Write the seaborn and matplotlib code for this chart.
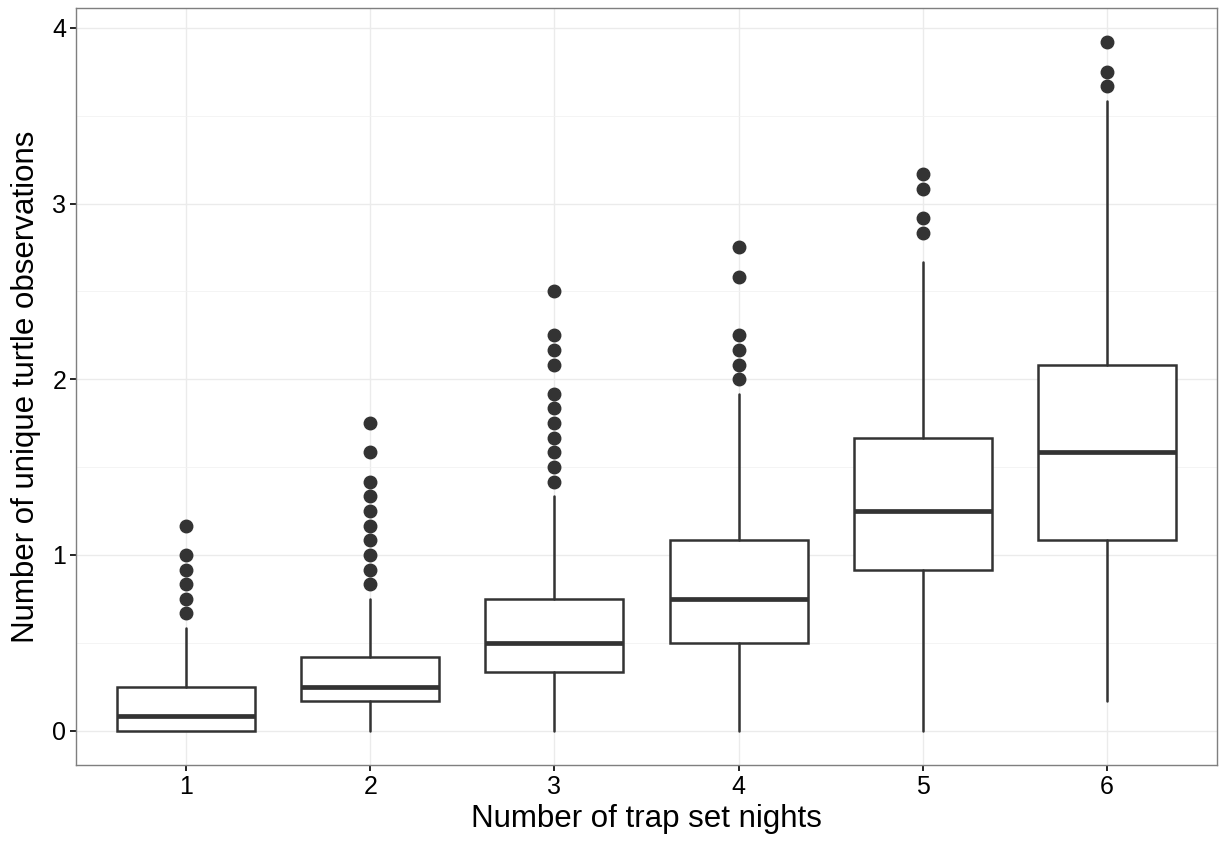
import matplotlib
matplotlib.use('Agg')
import matplotlib.pyplot as plt
import seaborn as sns
from matplotlib.ticker import MultipleLocator

# Box statistics (values are in twelfths)
nights = ['1', '2', '3', '4', '5', '6']
q1 = [0.0, 1/6, 1/3, 0.5, 11/12, 13/12]
median = [1/12, 0.25, 0.5, 0.75, 1.25, 19/12]
q3 = [0.25, 5/12, 0.75, 13/12, 5/3, 25/12]
whis_lo = [0.0, 0.0, 0.0, 0.0, 0.0, 1/6]
whis_hi = [7/12, 0.75, 4/3, 23/12, 8/3, 43/12]
outliers = [
    [8/12, 9/12, 10/12, 11/12, 1.0, 14/12],
    [10/12, 11/12, 1.0, 13/12, 14/12, 15/12, 16/12, 17/12, 19/12, 21/12],
    [17/12, 18/12, 19/12, 20/12, 21/12, 22/12, 23/12, 25/12, 26/12, 27/12, 30/12],
    [24/12, 25/12, 26/12, 27/12, 31/12, 33/12],
    [34/12, 35/12, 37/12, 38/12],
    [44/12, 45/12, 47/12],
]

sns.set_theme(style='whitegrid')
plt.rcParams['font.family'] = ['Liberation Sans', 'DejaVu Sans']

fig = plt.figure(figsize=(12.25, 8.44), dpi=100)
ax = fig.add_axes([76/1225, 1 - 765/844, (1217-76)/1225, (765-8)/844])

stats = []
for i in range(len(nights)):
    stats.append({'label': nights[i], 'q1': q1[i], 'med': median[i], 'q3': q3[i],
                  'whislo': whis_lo[i], 'whishi': whis_hi[i], 'fliers': outliers[i]})

dark = '#333333'
ax.bxp(stats, positions=range(1, 7), widths=0.75, showcaps=False, patch_artist=True,
       boxprops=dict(facecolor='white', edgecolor=dark, linewidth=1.8),
       whiskerprops=dict(color=dark, linewidth=1.8),
       medianprops=dict(color=dark, linewidth=3.4, solid_capstyle='butt'),
       flierprops=dict(marker='o', markerfacecolor=dark, markeredgecolor=dark, markersize=9),
       zorder=3)

ax.set_xlim(0.4, 6.6)
ax.set_ylim(-0.196, 4.113)
ax.yaxis.set_major_locator(MultipleLocator(1))
ax.yaxis.set_minor_locator(MultipleLocator(0.5))
ax.set_facecolor('white')
ax.grid(True, which='major', color='#EBEBEB', linewidth=1.0, zorder=0)
ax.grid(True, which='minor', axis='y', color='#F2F2F2', linewidth=0.6, zorder=0)
ax.set_axisbelow(True)
for s in ax.spines.values():
    s.set_color('#7F7F7F')
    s.set_linewidth(1.0)

ax.tick_params(axis='both', which='major', length=4, width=1.2, color='black',
               labelsize=18, labelcolor='black', left=True, bottom=True, pad=3)
ax.tick_params(axis='y', which='minor', length=0)
ax.set_xlabel('Number of trap set nights', fontsize=22.5, color='black', labelpad=4)
ax.set_ylabel('Number of unique turtle observations', fontsize=22.5, color='black', labelpad=8)

fig.savefig('out.png', dpi=100)
